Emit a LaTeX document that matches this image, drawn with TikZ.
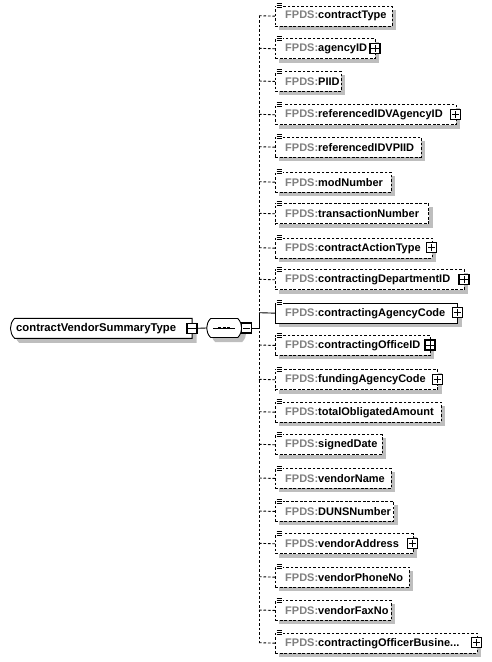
\documentclass[tikz,border=0pt]{standalone}
\usepackage{fontspec}
\setmainfont{Liberation Sans}
\usetikzlibrary{shapes.misc}
\definecolor{fpgray}{HTML}{808080}
\definecolor{shadowgray}{RGB}{190,190,190}
\tikzset{
  box/.style={draw, line width=0.9pt, fill=white, inner sep=0pt, minimum height=20pt, anchor=north west},
  opt/.style={dash pattern=on 2.6pt off 1.9pt},
  req/.style={solid},
  lbl/.style={inner sep=0pt, anchor=west, font=\fontsize{11}{13}\selectfont\bfseries},
  plusbox/.style={draw, line width=1.1pt, fill=white, minimum size=10pt, inner sep=0pt,
    path picture={\draw[line width=0.9pt] ([xshift=-3.6pt]path picture bounding box.center) -- ([xshift=3.6pt]path picture bounding box.center)
      ([yshift=-3.6pt]path picture bounding box.center) -- ([yshift=3.6pt]path picture bounding box.center);}},
  minusbox/.style={draw, line width=1.1pt, fill=white, minimum size=10pt, inner sep=0pt,
    path picture={\draw[line width=0.9pt] ([xshift=-3.6pt]path picture bounding box.center) -- ([xshift=3.6pt]path picture bounding box.center);}},
  conn/.style={line width=0.9pt},
  typebox/.style={draw, line width=0.9pt, fill=white, inner sep=0pt, rounded rectangle,
    rounded rectangle arc length=90, minimum height=20pt},
  shadowbox/.style={fill=shadowgray, draw=none},
}
\newcommand\elem[6]{%
  \fill[shadowgray] (279,#2+4) rectangle (#3+4.2,#2+24.2);
  \node[box,#5,minimum width={#3-275}] (#1) at (275,#2) {};
  \node[lbl] (#1t) at (285,#2+10.5) {\textcolor{fpgray}{FPDS:}#4};
  \fill[white] (276,#2-3) rectangle (282.5,#2+3.5);
  \draw[line width=0.8pt] (276.5,#2-2) -- (282,#2-2) (276.5,#2) -- (282,#2) (276.5,#2+2) -- (282,#2+2);
  \coordinate (s#1) at (259,#2+10);
  \draw[conn,#5] (s#1) -- (#1.west);
  \ifnum#6=1 \node[plusbox] (#1p) at (#3,#2+10) {};\fi
}
\begin{document}
\begin{tikzpicture}[x=1pt,y=-1pt]
\path[use as bounding box] (0,0) rectangle (491,662);
% type node
\node[typebox, shadowbox, rounded rectangle right arc=none, minimum width=181.7pt, anchor=west] (cts) at (14.5,332.8) {};
\node[typebox, rounded rectangle right arc=none, minimum width=181.7pt, anchor=west] (ct) at (10,328.3) {};
\node[lbl, font=\fontsize{11.3}{13}\selectfont\bfseries] (ctt) at (16,328.8) {contractVendorSummaryType};
\node[minusbox] (ctm) at (192,328.3) {};
% sequence compositor
\node[typebox, shadowbox, minimum width=35pt, minimum height=19pt] (seqs) at (228.7,332.5) {};
\node[typebox, minimum width=35pt, minimum height=19pt] (seq) at (224.2,328) {};
\draw[line width=0.8pt] (seq.center) +(-11,0) -- +(11,0);
\foreach \d in {-5.8,-1.3,3.2} \fill ([xshift=\d pt, yshift=1.4pt]seq.center) rectangle +(2.8,2.8);
\node[minusbox] (seqm) at (246.5,328) {};
\coordinate (j) at (259,328);
\draw[conn] (ctm.east) -- (seq.west);
\draw[conn] (seqm.east) -- (j);
% elements
\elem{e1}{5.7}{391.7}{contractType}{opt}{0}
\elem{e2}{38.3}{375}{agencyID}{opt}{1}
\elem{e3}{71}{340.7}{PIID}{opt}{0}
\elem{e4}{104.3}{455.7}{referencedIDVAgencyID}{opt}{1}
\elem{e5}{136.7}{420.7}{referencedIDVPIID}{opt}{0}
\elem{e6}{171.7}{390.7}{modNumber}{opt}{0}
\elem{e7}{203.3}{428.3}{transactionNumber}{opt}{0}
\elem{e8}{237.7}{431.7}{contractActionType}{opt}{1}
\elem{e9}{269.3}{464}{contractingDepartmentID}{opt}{1}
\elem{e10}{302.7}{457.3}{contractingAgencyCode}{req}{1}
\elem{e11}{335}{430}{contractingOfficeID}{opt}{1}
\elem{e12}{369.3}{437.3}{fundingAgencyCode}{opt}{1}
\elem{e13}{401.7}{440.7}{totalObligatedAmount}{opt}{0}
\elem{e14}{434.3}{381.7}{signedDate}{opt}{0}
\elem{e15}{468}{390.7}{vendorName}{opt}{0}
\elem{e16}{501}{393.3}{DUNSNumber}{opt}{0}
\elem{e17}{533.3}{412.7}{vendorAddress}{opt}{1}
\elem{e18}{566.7}{409}{vendorPhoneNo}{opt}{0}
\elem{e19}{600}{390.7}{vendorFaxNo}{opt}{0}
\elem{e20}{632.7}{476.7}{contractingOfficerBusine...}{opt}{1}
% spine
\draw[conn,opt] (se1) -- (se20);
\draw[conn] (se10) -- (j);
\end{tikzpicture}
\end{document}
